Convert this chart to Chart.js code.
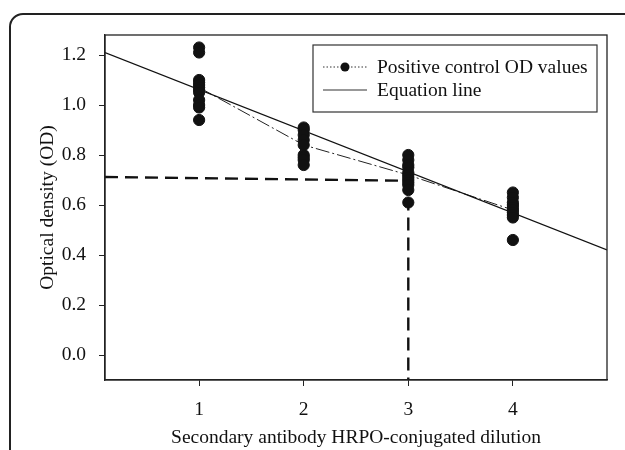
<!DOCTYPE html>
<html>
<head>
<meta charset="utf-8">
<script src="https://cdn.jsdelivr.net/npm/chart.js@4.4.0/dist/chart.umd.min.js"></script>
<style>
html,body{margin:0;padding:0;background:#fff;}
#wrap{position:relative;width:625px;height:450px;overflow:hidden;}
#frame{position:absolute;left:9px;top:13px;width:660px;height:480px;border:2px solid #222;border-radius:14px;box-sizing:border-box;}
canvas{position:absolute;left:0;top:0;}
</style>
</head>
<body>
<div id="wrap">
<div id="frame"></div>
<canvas id="c" width="625" height="450"></canvas>
</div>
<script>
const dilutions = [1, 2, 3, 4];
const od1 = [1.23, 1.21, 1.10, 1.09, 1.08, 1.07, 1.06, 1.05, 1.02, 1.00, 0.99, 0.94];
const od2 = [0.91, 0.90, 0.88, 0.86, 0.84, 0.80, 0.79, 0.78, 0.76];
const od3 = [0.80, 0.78, 0.76, 0.75, 0.73, 0.72, 0.71, 0.70, 0.69, 0.68, 0.66, 0.61];
const od4 = [0.65, 0.63, 0.61, 0.60, 0.59, 0.58, 0.57, 0.56, 0.55, 0.46];
const meanOD = [1.07, 0.84, 0.72, 0.58];
const eqX = [0.1, 4.9];
const eqY = [1.21, 0.42];
const cutX = [0.1, 3, 3];
const cutY = [0.712, 0.697, -0.1];
const yTicks = [0.0, 0.2, 0.4, 0.6, 0.8, 1.0, 1.2];
const xTicks = [1, 2, 3, 4];
const legendLabels = ["Positive control OD values", "Equation line"];
const xTitle = "Secondary antibody HRPO-conjugated dilution";
const yTitle = "Optical density (OD)";

const FONT = "'Liberation Serif', 'DejaVu Serif', serif";
const FS = 19.5;
const groups = [od1, od2, od3, od4];
const points = [];
groups.forEach((g, i) => g.forEach(v => points.push({x: dilutions[i], y: v})));

const frameBox = {
  id: 'frameBox',
  afterDraw(chart) {
    const {ctx, chartArea: a} = chart;
    ctx.save();
    ctx.strokeStyle = '#222';
    ctx.lineWidth = 1.3;
    ctx.strokeRect(a.left, a.top, a.right - a.left, a.bottom - a.top);
    const lx = 313, ly = 45, lw = 284, lh = 67;
    ctx.lineWidth = 1.2;
    ctx.strokeStyle = '#333';
    ctx.strokeRect(lx, ly, lw, lh);
    ctx.fillStyle = '#111';
    ctx.font = FS + "px " + FONT;
    ctx.textBaseline = 'middle';
    ctx.textAlign = 'left';
    ctx.setLineDash([1.5, 2]);
    ctx.lineWidth = 1;
    ctx.beginPath(); ctx.moveTo(323, 67); ctx.lineTo(367, 67); ctx.stroke();
    ctx.setLineDash([]);
    ctx.beginPath(); ctx.arc(345, 67, 4.5, 0, Math.PI * 2); ctx.fill();
    ctx.fillText(legendLabels[0], 377, 68);
    ctx.lineWidth = 1.2;
    ctx.beginPath(); ctx.moveTo(323, 90); ctx.lineTo(367, 90); ctx.stroke();
    ctx.fillText(legendLabels[1], 377, 91);
    ctx.restore();
  }
};

new Chart(document.getElementById('c'), {
  type: 'scatter',
  data: {
    datasets: [
      {
        data: points,
        backgroundColor: '#111',
        borderColor: '#111',
        pointRadius: 5.6,
        showLine: false,
        order: 0
      },
      {
        data: meanOD.map((v, i) => ({x: dilutions[i], y: v})),
        showLine: true,
        borderColor: '#222',
        borderWidth: 1,
        borderDash: [14, 3, 2, 3],
        pointRadius: 0,
        order: 2
      },
      {
        data: eqX.map((x, i) => ({x: x, y: eqY[i]})),
        showLine: true,
        borderColor: '#111',
        borderWidth: 1.2,
        pointRadius: 0,
        order: 1
      },
      {
        data: cutX.map((x, i) => ({x: x, y: cutY[i]})),
        showLine: true,
        borderColor: '#111',
        borderWidth: 2.4,
        borderDash: [13, 7],
        pointRadius: 0,
        order: 3
      }
    ]
  },
  options: {
    responsive: false,
    animation: false,
    devicePixelRatio: 1,
    layout: {padding: {top: 35, right: 18, left: 0, bottom: 0}},
    plugins: {legend: {display: false}, tooltip: {enabled: false}},
    scales: {
      x: {
        type: 'linear',
        min: 0.1, max: 4.9,
        afterBuildTicks: s => { s.ticks = xTicks.map(v => ({value: v})); },
        afterFit: s => { s.height = 70; },
        grid: {display: true, drawOnChartArea: false, drawTicks: true, tickLength: 6, color: '#222', lineWidth: 1},
        border: {display: true, color: '#222', width: 1.3},
        ticks: {color: '#111', font: {family: FONT, size: FS}, padding: 12, callback: v => String(v)},
        title: {display: true, text: xTitle, color: '#111', font: {family: FONT, size: FS}, padding: {top: 4, bottom: 0}}
      },
      y: {
        type: 'linear',
        min: -0.1, max: 1.28,
        afterBuildTicks: s => { s.ticks = yTicks.map(v => ({value: v})); },
        afterFit: s => { s.width = 105; },
        grid: {display: true, drawOnChartArea: false, drawTicks: true, tickLength: 6, color: '#222', lineWidth: 1},
        border: {display: true, color: '#222', width: 1.3},
        ticks: {color: '#111', font: {family: FONT, size: FS}, padding: 13, callback: v => Number(v).toFixed(1)},
        title: {display: true, text: yTitle, color: '#111', font: {family: FONT, size: FS}, padding: {top: 36, bottom: 0}}
      }
    }
  },
  plugins: [frameBox]
});
</script>
</body>
</html>
